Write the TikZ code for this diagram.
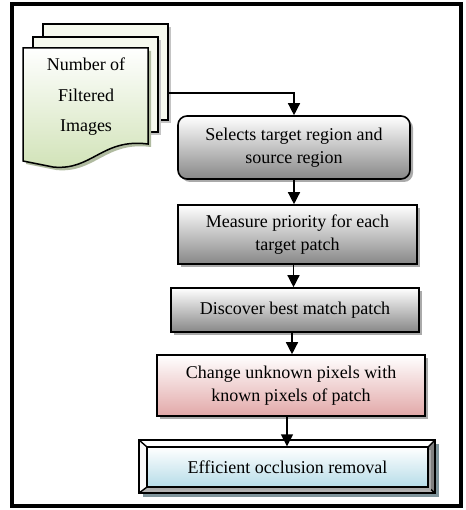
\documentclass[tikz,border=0pt]{standalone}
\usepackage{fontspec}
\setmainfont{Liberation Serif}
\usetikzlibrary{arrows.meta,shadows}
\definecolor{sheetback}{RGB}{246,249,238}
\definecolor{sheetgreen}{RGB}{208,226,182}
\definecolor{boxgray}{RGB}{135,135,135}
\definecolor{boxpink}{RGB}{226,168,168}
\definecolor{boxblue}{RGB}{182,220,232}
\definecolor{shadowgray}{RGB}{170,170,170}
\begin{document}
\begin{tikzpicture}[x=1pt,y=-1pt,
  txt/.style={font=\fontsize{18}{23}\selectfont, align=center},
  box/.style={txt, draw=black, line width=1.6pt, inner sep=0pt, shading=axis, top color=white,
    drop shadow={shadow xshift=3pt, shadow yshift=-3pt, fill=shadowgray, opacity=1}},
  sheet/.style={draw=black, line width=1.5pt, fill=sheetback},
  arr/.style={line width=1.4pt, -{Triangle[length=12pt,width=12pt]}},
]
\useasboundingbox (0,0) rectangle (465,510);
% outer frame
\draw[line width=3.5pt] (12,4) rectangle (461,506);

% document stack
\fill[shadowgray!70] (46,27) rectangle (171,123);
\draw[sheet] (43,24) rectangle (168,120);
\fill[shadowgray!70] (36,40) rectangle (161,135);
\draw[sheet] (33,37) rectangle (158,132);
\fill[sheetgreen!60!gray] (26,51) -- (151,51) -- (151,147) .. controls (105,141) and (95,174) .. (56,170) -- (26,164) -- cycle;
\draw[line width=1.5pt, shading=axis, top color=white, bottom color=sheetgreen]
  (23,48) -- (148,48) -- (148,144) .. controls (102,138) and (92,171) .. (53,167) -- (23,161) -- cycle;
\node[txt, font=\fontsize{18}{30.5}\selectfont] (doc) at (86,97) {Number of\\Filtered\\Images};
\coordinate (docR) at (168,93);

% process boxes
\node[box, rounded corners=9pt, bottom color=boxgray, minimum width=232pt, minimum height=63pt] (b1) at (294,147.5) {Selects target region and\\source region};
\node[box, bottom color=boxgray, minimum width=239pt, minimum height=59pt] (b2) at (297.5,234.5) {Measure priority for each\\target patch};
\node[box, bottom color=boxgray, minimum width=248pt, minimum height=44pt] (b3) at (295,310) {Discover best match patch};
\node[box, bottom color=boxpink, minimum width=268pt, minimum height=61pt] (b4) at (291,385.5) {Change unknown pixels with\\known pixels of patch};

% bevel box
\fill[black!30!boxblue!80!gray] (143,444) rectangle (439,497);
\fill[white] (139,440) -- (435,440) -- (428,447) -- (147,447) -- cycle;
\fill[white!95!gray] (139,440) -- (147,447) -- (147,487) -- (139,493) -- cycle;
\fill[gray] (435,440) -- (435,493) -- (428,487) -- (428,447) -- cycle;
\fill[black!30] (139,493) -- (435,493) -- (428,487) -- (147,487) -- cycle;
\draw[line width=1.4pt] (139,440) -- (147,447) (435,440) -- (428,447) (139,493) -- (147,487) (435,493) -- (428,487);
\draw[line width=1.6pt] (139,440) rectangle (435,493);
\node[box, drop shadow={opacity=0}, line width=1.4pt, bottom color=boxblue, minimum width=281pt, minimum height=40pt] (b5) at (287.5,467) {Efficient occlusion removal};

% connectors
\draw[arr] (docR) -| (b1.north);
\draw[arr] (b1.south) -- (b1.south |- b2.north);
\draw[arr] ([xshift=-4pt]b2.south) -- ([xshift=-4pt]b2.south |- b3.north);
\draw[arr] ([xshift=-3pt]b3.south) -- ([xshift=-3pt]b3.south |- b4.north);
\draw[arr] ([xshift=-4pt]b4.south) -- ([xshift=-4pt]b4.south |- b5.north);
\end{tikzpicture}
\end{document}
